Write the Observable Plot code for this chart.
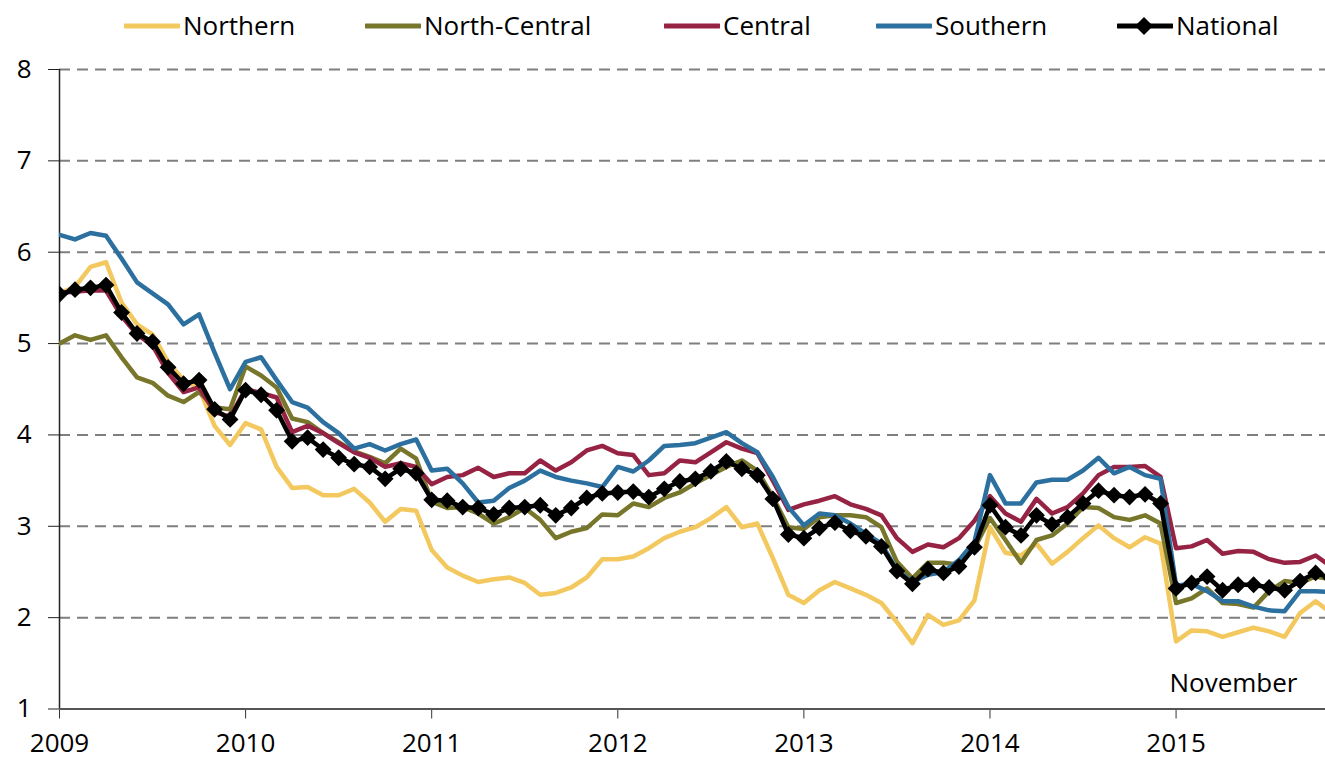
<!DOCTYPE html>
<html>
<head>
<meta charset="utf-8">
<script src="https://cdn.jsdelivr.net/npm/d3@7"></script>
<script src="https://cdn.jsdelivr.net/npm/@observablehq/plot@0.6"></script>
<style>
  html, body { margin: 0; padding: 0; background: #fff; overflow: hidden; }
  #wrap { width: 1325px; font-family: "Open Sans", sans-serif; }
  #legend { position: relative; height: 50px; width: 1325px; font-size: 26px; color: #000; }
  .item { position: absolute; top: 0; height: 50px; display: flex; align-items: center; }
  .item svg { display: block; margin-right: 3px; }
  #chart svg { display: block; }
</style>
</head>
<body>
<div id="wrap">
  <div id="legend"></div>
  <div id="chart"></div>
</div>
<script>
// ---- Data (monthly, Jan 2009 – Nov 2015) ----
const seriesNames = ["Northern", "North-Central", "Central", "Southern", "National"];
const seriesColors = ["#F3C95F", "#77762A", "#962343", "#2C70A0", "#000000"];

const northern = [
  5.55, 5.62, 5.84, 5.89, 5.45, 5.21, 5.10, 4.80, 4.60, 4.51, 4.10, 3.89,
  4.13, 4.06, 3.65, 3.42, 3.43, 3.34, 3.34, 3.41, 3.26, 3.05, 3.19, 3.17,
  2.74, 2.55, 2.46, 2.39, 2.42, 2.44, 2.38, 2.25, 2.27, 2.33, 2.44, 2.64,
  2.64, 2.67, 2.76, 2.87, 2.94, 2.99, 3.09, 3.21, 2.99, 3.03, 2.65, 2.25,
  2.16, 2.30, 2.39, 2.32, 2.25, 2.16, 1.95, 1.72, 2.03, 1.92, 1.97, 2.19,
  2.99, 2.71, 2.68, 2.81, 2.59, 2.72, 2.87, 3.01, 2.87, 2.77, 2.88, 2.81,
  1.74, 1.86, 1.85, 1.79, 1.84, 1.89, 1.85, 1.79, 2.05, 2.18, 2.05
];
const northCentral = [
  5.00, 5.09, 5.04, 5.09, 4.85, 4.63, 4.57, 4.43, 4.36, 4.47, 4.30, 4.28,
  4.75, 4.65, 4.52, 4.18, 4.14, 4.02, 3.92, 3.82, 3.76, 3.69, 3.85, 3.74,
  3.27, 3.20, 3.21, 3.14, 3.03, 3.10, 3.20, 3.07, 2.87, 2.94, 2.98, 3.13,
  3.12, 3.25, 3.21, 3.31, 3.37, 3.47, 3.56, 3.65, 3.72, 3.61, 3.32, 2.99,
  2.97, 3.10, 3.12, 3.12, 3.10, 2.99, 2.61, 2.43, 2.60, 2.60, 2.58, 2.76,
  3.09, 2.85, 2.60, 2.85, 2.90, 3.03, 3.21, 3.20, 3.10, 3.07, 3.12, 3.03,
  2.16, 2.21, 2.32, 2.16, 2.15, 2.11, 2.29, 2.40, 2.38, 2.45, 2.42
];
const central = [
  5.55, 5.57, 5.58, 5.58, 5.30, 5.10, 4.98, 4.68, 4.47, 4.52, 4.25, 4.20,
  4.50, 4.46, 4.41, 4.03, 4.10, 4.02, 3.91, 3.81, 3.75, 3.65, 3.69, 3.65,
  3.46, 3.54, 3.56, 3.64, 3.54, 3.58, 3.58, 3.72, 3.61, 3.70, 3.83, 3.88,
  3.80, 3.78, 3.56, 3.58, 3.72, 3.70, 3.81, 3.92, 3.85, 3.80, 3.50, 3.18,
  3.24, 3.28, 3.33, 3.24, 3.19, 3.12, 2.87, 2.72, 2.80, 2.77, 2.87, 3.06,
  3.33, 3.14, 3.05, 3.30, 3.14, 3.21, 3.36, 3.56, 3.65, 3.65, 3.66, 3.54,
  2.76, 2.78, 2.85, 2.70, 2.73, 2.72, 2.64, 2.60, 2.61, 2.68, 2.56
];
const southern = [
  6.19, 6.14, 6.21, 6.18, 5.93, 5.67, 5.55, 5.43, 5.21, 5.32, 4.90, 4.50,
  4.80, 4.85, 4.60, 4.36, 4.30, 4.14, 4.02, 3.85, 3.90, 3.83, 3.90, 3.95,
  3.61, 3.63, 3.47, 3.26, 3.28, 3.42, 3.50, 3.61, 3.54, 3.50, 3.47, 3.43,
  3.65, 3.60, 3.72, 3.88, 3.89, 3.91, 3.97, 4.03, 3.91, 3.81, 3.54, 3.21,
  3.01, 3.14, 3.12, 3.03, 2.92, 2.81, 2.52, 2.39, 2.47, 2.50, 2.63, 2.83,
  3.56, 3.25, 3.25, 3.48, 3.51, 3.51, 3.61, 3.75, 3.58, 3.65, 3.56, 3.52,
  2.35, 2.37, 2.29, 2.18, 2.18, 2.12, 2.08, 2.07, 2.29, 2.29, 2.28
];
const national = [
  5.54, 5.59, 5.61, 5.64, 5.34, 5.11, 5.02, 4.74, 4.56, 4.60, 4.28, 4.17,
  4.49, 4.44, 4.27, 3.93, 3.97, 3.84, 3.75, 3.68, 3.65, 3.52, 3.63, 3.58,
  3.29, 3.28, 3.21, 3.20, 3.13, 3.20, 3.21, 3.23, 3.12, 3.20, 3.31, 3.36,
  3.37, 3.38, 3.32, 3.41, 3.49, 3.52, 3.60, 3.71, 3.63, 3.56, 3.30, 2.91,
  2.87, 2.98, 3.04, 2.95, 2.89, 2.78, 2.51, 2.37, 2.53, 2.49, 2.56, 2.77,
  3.23, 2.99, 2.90, 3.12, 3.02, 3.10, 3.25, 3.39, 3.34, 3.32, 3.35, 3.25,
  2.32, 2.38, 2.45, 2.30, 2.36, 2.36, 2.33, 2.30, 2.40, 2.49, 2.43
];
const startYear = 2009;
const yearTicks = [2009, 2010, 2011, 2012, 2013, 2014, 2015];
const yTicks = [1, 2, 3, 4, 5, 6, 7, 8];
const gridValues = [2, 3, 4, 5, 6, 7, 8];
const annotation = "November";

// ---- Build table ----
const regional = [northern, northCentral, central, southern];
const rows = regional.flatMap((vals, k) =>
  vals.map((v, i) => ({ series: seriesNames[k], t: startYear + i / 12, v })));
const natRows = national.map((v, i) => ({ series: "National", t: startYear + i / 12, v }));

// square diamond symbol
const diamond = {
  draw(context, size) {
    const h = Math.sqrt(size / Math.PI) * 1.4;
    context.moveTo(0, -h);
    context.lineTo(h, 0);
    context.lineTo(0, h);
    context.lineTo(-h, 0);
    context.closePath();
  }
};

// ---- Legend ----
const legendLeft = [124, 365, 664, 876, 1117];
const legend = document.getElementById("legend");
seriesNames.forEach((name, k) => {
  const item = document.createElement("div");
  item.className = "item";
  item.style.left = legendLeft[k] + "px";
  const marker = name === "National"
    ? '<path d="M27,17 L36,26 L27,35 L18,26 Z" fill="#000"/>' : "";
  item.innerHTML =
    `<svg width="56" height="50"><line x1="1" x2="55" y1="26" y2="26" stroke="${seriesColors[k]}" stroke-width="5" stroke-linecap="round"/>${marker}</svg><span>${name}</span>`;
  legend.appendChild(item);
});

// ---- Chart ----
const chart = Plot.plot({
  width: 1325,
  height: 710,
  marginLeft: 59,
  marginRight: 0,
  marginTop: 19,
  marginBottom: 51.5,
  style: { fontFamily: "Open Sans, sans-serif", fontSize: "26px", background: "#fff", color: "#000", overflow: "visible" },
  x: { domain: [2009, 2015.803], label: null },
  y: { domain: [1, 8], label: null },
  color: { domain: seriesNames.slice(0, 4), range: seriesColors.slice(0, 4) },
  marks: [
    Plot.ruleY(gridValues, { stroke: "#7f7f7f", strokeWidth: 2, strokeDasharray: "11,7" }),
    Plot.axisY({ ticks: yTicks, tickSize: 11, tickPadding: 17, tickFormat: d => String(d), stroke: "#222", label: null }),
    Plot.axisX({ ticks: yearTicks, tickSize: 10, tickPadding: 15, tickFormat: d => String(d), stroke: "#333", label: null }),
    Plot.ruleX([2009], { stroke: "#222", strokeWidth: 1.5 }),
    Plot.line(rows, { x: "t", y: "v", z: "series", stroke: "series", strokeWidth: 4.5, strokeLinejoin: "round", clip: true }),
    Plot.line(natRows, { x: "t", y: "v", stroke: "#000", strokeWidth: 4.5, strokeLinejoin: "round", clip: true }),
    Plot.dot(natRows, { x: "t", y: "v", symbol: diamond, r: 6, fill: "#000", stroke: "none", clip: true }),
    Plot.ruleY([1], { stroke: "#555", strokeWidth: 2 }),
    Plot.text([annotation], { text: d => d, frameAnchor: "bottom-right", textAnchor: "end", lineAnchor: "middle", dx: -28, dy: -25, fill: "#000" })
  ]
});
document.getElementById("chart").appendChild(chart);
</script>
</body>
</html>
